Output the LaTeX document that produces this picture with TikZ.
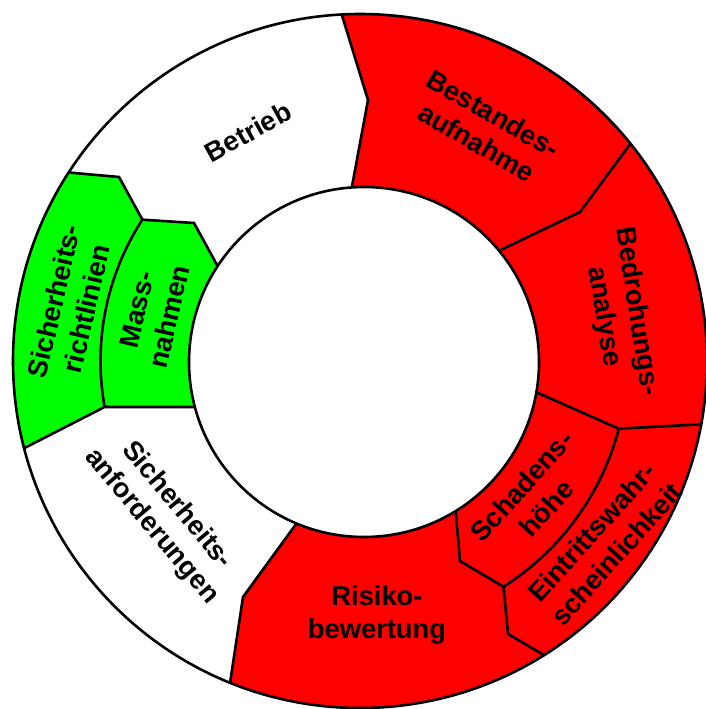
\documentclass[tikz,border=0pt]{standalone}
\usepackage{fontspec}
\setmainfont{Liberation Sans}
\usetikzlibrary{calc}
\definecolor{segred}{RGB}{255,0,0}
\definecolor{seggreen}{RGB}{0,255,0}
\begin{document}
\begin{tikzpicture}[x=1pt,y=1pt,
  edge/.style={line width=2.6pt, line join=miter, black},
  lbl/.style={font=\bfseries\fontsize{27.3}{33}\selectfont, align=center, inner sep=0pt}]
\fill[white] (0,0) rectangle (705,-709);
\useasboundingbox (0,0) rectangle (705,-709);
% centres of the ring and corner points on the curved dividers
\coordinate (O) at (360,-361);
\coordinate (I) at (364,-362);
\coordinate (A) at ($(O)+(147.0:259.5)$);
\coordinate (B) at ($(O)+(190.2:259.5)$);
\coordinate (C) at ($(O)+(-14.66:267.5)$);
\coordinate (D) at ($(O)+(-57.56:267.5)$);
\begin{scope}[even odd rule]
  \clip (O) circle[radius=347] (I) circle[radius=175];
  % red sector (analysis and risk)
  \fill[segred] (336,4) -- (368,-100) -- (348,-208) -- (I) -- (307,-509)
    -- (243,-597) -- (227,-703) -- (227,-730) -- (730,-730) -- (730,20)
    -- (336,20) -- cycle;
  % green sector (guidelines and measures)
  \fill[seggreen] (52,-171) -- (119,-177) -- (A) -- (194,-223) -- (228,-285)
    -- (I) -- (213,-407) -- (B) -- (7,-457) -- (-20,-457) -- (-20,-171) -- cycle;
  % dividers between the segments
  \draw[edge] (336,4) -- (368,-100) -- (348,-208);
  \draw[edge] (645,-124) -- (580,-212) -- (482,-259);
  \draw[edge] (520,-385) -- (C) -- (726,-423);
  \draw[edge] (C) arc[start angle=-14.66, end angle=-57.56, radius=267.5];
  \draw[edge] (454,-492) -- (460,-561) -- (D);
  \draw[edge] (D) -- (508,-634) -- (566,-668);
  \draw[edge] (307,-509) -- (243,-597) -- (227,-703);
  \draw[edge] (7,-457) -- (B) -- (213,-407);
  \draw[edge] (A) arc[start angle=147.0, end angle=190.2, radius=259.5];
  \draw[edge] (A) -- (194,-223) -- (228,-285);
  \draw[edge] (52,-171) -- (119,-177) -- (A);
\end{scope}
\draw[edge] (O) circle[radius=347];
\draw[edge] (I) circle[radius=175];
% segment labels
\node[lbl, rotate=29] (betrieb) at (248,-132) {Betrieb};
\node[lbl, rotate=-30] (bestand) at (485,-128) {Bestandes-\\aufnahme};
\node[lbl, rotate=-81] (bedroh) at (620,-314) {Bedrohungs-\\analyse};
\node[lbl, rotate=48] (schaden) at (534,-497) {Schadens-\\höhe};
\node[lbl, rotate=48] (eintritt) at (604,-543) {Eintrittswahr-\\scheinlichkeit};
\node[lbl] (risiko) at (377,-615) {Risiko-\\bewertung};
\node[lbl, rotate=-50] (anford) at (164,-516) {Sicherheits-\\anforderungen};
\node[lbl, rotate=77] (richtl) at (70,-305) {Sicherheits-\\richtlinien};
\node[lbl, rotate=77] (massn) at (153,-313) {Mass-\\nahmen};
\end{tikzpicture}
\end{document}
